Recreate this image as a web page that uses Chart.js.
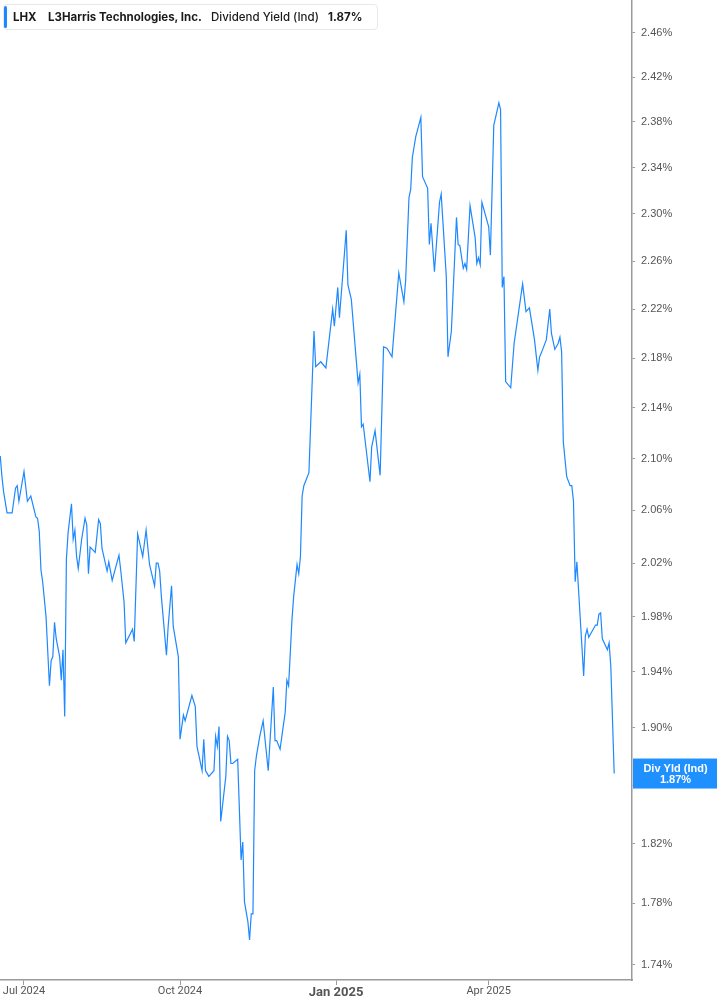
<!DOCTYPE html>
<html>
<head>
<meta charset="utf-8">
<script src="https://cdn.jsdelivr.net/npm/chart.js@4.4.1/dist/chart.umd.min.js"></script>
<style>
  html, body { margin: 0; padding: 0; background: #fff; }
  #wrap { position: relative; width: 717px; height: 1005px; }
  #legend {
    position: absolute; left: 3px; top: 4px; width: 375px; height: 26px;
    box-sizing: border-box; border: 1px solid #e8e8e8; border-radius: 4px;
    background: #fff; font-family: Inter, 'Noto Sans', sans-serif; font-size: 11.5px; color: #1a1a1a;
  }
  #legend .bar { position: absolute; left: 0; top: 1px; width: 3px; height: 22px; background: #1e88ff; border-radius: 2px; }
  #legend span { position: absolute; top: 5px; white-space: nowrap; }
  .b { font-weight: 700; }
  .m { font-weight: 500; }
</style>
</head>
<body>
<div id="wrap">
  <canvas id="chart" width="717" height="1005"></canvas>
  <div id="legend">
    <div class="bar"></div>
    <span class="b" style="left:9px">LHX</span>
    <span class="b" style="left:44px">L3Harris Technologies, Inc.</span>
    <span class="m" style="left:207px">Dividend Yield (Ind)</span>
    <span class="b" style="left:324px">1.87%</span>
  </div>
</div>
<script>
// days counted from 2024-07-01
const dayOffsets = [
  -14,-13,-12,-10,-7,-5,-4,-3,0,2,
  4,7,8,9,10,11,13,15,16,17,
  18,19,21,22,23,24,25,26,28,29,
  30,31,32,34,36,37,38,39,42,44,
  45,46,49,50,52,56,57,59,60,64,
  65,67,70,72,74,77,78,79,80,81,
  84,85,87,88,91,92,94,95,99,101,
  102,105,106,107,109,112,113,114,115,116,
  119,120,121,122,123,126,128,129,130,132,
  133,134,135,136,137,139,141,144,147,148,
  149,151,154,155,156,157,158,159,161,162,
  163,164,165,168,171,172,175,178,182,183,
  185,186,190,191,193,197,198,199,200,204,
  205,207,210,212,214,217,221,224,225,227,
  228,229,231,234,235,238,239,240,242,245,
  246,249,250,252,255,256,257,259,260,261,
  263,266,267,268,269,270,274,275,277,280,
  281,282,283,284,287,289,294,296,298,301,
  303,304,305,308,310,311,313,315,316,317,
  318,320,322,323,324,325,326,330,331,332,
  333,337,338,339,340,341,344,345,346,348
];

// dividend yield, %
const yieldValues = [
  2.102,2.086,2.074,2.058,2.058,2.077,2.079,2.067,2.090,2.067,
  2.071,2.055,2.054,2.044,2.015,2.006,1.980,1.930,1.948,1.951,
  1.976,1.964,1.951,1.934,1.956,1.908,2.023,2.043,2.065,2.038,
  2.045,2.025,2.016,2.038,2.054,2.049,2.012,2.032,2.028,2.053,
  2.050,2.031,2.014,2.021,2.007,2.026,2.015,1.991,1.961,1.971,
  1.962,2.042,2.025,2.045,2.019,2.003,2.020,2.020,2.014,1.995,
  1.952,1.973,2.003,1.973,1.951,1.892,1.909,1.905,1.923,1.915,
  1.887,1.870,1.892,1.870,1.866,1.870,1.894,1.887,1.901,1.835,
  1.866,1.894,1.891,1.875,1.875,1.878,1.809,1.821,1.781,1.768,
  1.756,1.773,1.773,1.870,1.880,1.894,1.905,1.870,1.929,1.891,
  1.891,1.885,1.911,1.934,1.930,1.953,1.978,1.995,2.019,2.012,
  2.025,2.071,2.079,2.089,2.202,2.173,2.177,2.172,2.220,2.206,
  2.238,2.213,2.286,2.240,2.228,2.160,2.167,2.125,2.127,2.082,
  2.109,2.122,2.087,2.189,2.188,2.181,2.250,2.226,2.243,2.314,
  2.321,2.349,2.367,2.384,2.332,2.322,2.274,2.292,2.251,2.310,
  2.317,2.247,2.181,2.202,2.297,2.274,2.273,2.254,2.258,2.253,
  2.307,2.280,2.258,2.263,2.257,2.310,2.289,2.265,2.377,2.397,
  2.391,2.238,2.247,2.161,2.156,2.192,2.241,2.218,2.221,2.195,
  2.170,2.181,2.184,2.195,2.220,2.200,2.187,2.192,2.197,2.185,
  2.113,2.086,2.079,2.079,2.067,2.006,2.021,1.937,1.966,1.971,
  1.965,1.974,1.974,1.982,1.983,1.964,1.956,1.961,1.944,1.868
];

const xTickDays = [0, 92, 184, 274];
const xTickLabels = ['Jul 2024', 'Oct 2024', 'Jan 2025', 'Apr 2025'];
const yTickValues = [1.74, 1.78, 1.82, 1.86, 1.90, 1.94, 1.98, 2.02, 2.06, 2.10,
  2.14, 2.18, 2.22, 2.26, 2.30, 2.34, 2.38, 2.42, 2.46];

const LINE_COLOR = '#1e88ff';
const AXIS_COLOR = '#9a9a9a';
const TEXT_COLOR = '#555';

// blue tag with the latest value on the right axis
const lastValueTag = {
  id: 'lastValueTag',
  afterDraw(chart) {
    const { ctx, chartArea, scales } = chart;
    const v = yieldValues[yieldValues.length - 1];
    const y = scales.y.getPixelForValue(v);
    const cx = (chartArea.right + chart.width) / 2 + 1;
    ctx.save();
    ctx.fillStyle = '#1e90ff';
    ctx.fillRect(chartArea.right + 1, y - 15, chart.width - chartArea.right - 1, 30);
    ctx.fillStyle = '#fff';
    ctx.font = 'bold 11px "Liberation Sans", Arial, sans-serif';
    ctx.textAlign = 'center';
    ctx.textBaseline = 'middle';
    ctx.fillText('Div Yld (Ind)', cx, y - 5);
    ctx.fillText(v.toFixed(2) + '%', cx, y + 6);
    ctx.restore();
  }
};

new Chart(document.getElementById('chart'), {
  type: 'line',
  data: {
    datasets: [{
      data: dayOffsets.map((d, i) => ({ x: d, y: yieldValues[i] })),
      borderColor: LINE_COLOR,
      borderWidth: 1.2,
      pointRadius: 0,
      tension: 0,
      fill: false
    }]
  },
  options: {
    responsive: false,
    animation: false,
    layout: { padding: 0 },
    plugins: { legend: { display: false }, tooltip: { enabled: false } },
    scales: {
      x: {
        type: 'linear',
        min: -14.15,
        max: 358.5,
        afterBuildTicks: s => { s.ticks = xTickDays.map(v => ({ value: v })); },
        afterFit: s => { s.height = 25; s.paddingLeft = 0; s.paddingRight = 0; },
        grid: { display: true, drawOnChartArea: false, drawTicks: true, tickLength: 5, color: AXIS_COLOR },
        border: { display: true, color: AXIS_COLOR, width: 1.5 },
        ticks: {
          autoSkip: false,
          maxRotation: 0,
          padding: 0,
          color: TEXT_COLOR,
          font: c => c.tick && c.tick.value === 184
            ? { family: 'Roboto', size: 13, weight: 'bold' }
            : { family: 'Roboto', size: 11 },
          callback: v => xTickLabels[xTickDays.indexOf(v)] || ''
        }
      },
      y: {
        type: 'logarithmic',
        position: 'right',
        min: 1.73419,
        max: 2.49035,
        afterBuildTicks: s => { s.ticks = yTickValues.map(v => ({ value: v })); },
        afterFit: s => { s.width = 85; s.paddingTop = 0; s.paddingBottom = 0; },
        grid: { display: true, drawOnChartArea: false, drawTicks: true, tickLength: 3, color: AXIS_COLOR },
        border: { display: true, color: AXIS_COLOR, width: 1.5 },
        ticks: {
          autoSkip: false,
          padding: 6,
          color: TEXT_COLOR,
          font: { family: '"Liberation Sans", Arial, sans-serif', size: 11 },
          callback: v => v.toFixed(2) + '%'
        }
      }
    }
  },
  plugins: [lastValueTag]
});
</script>
</body>
</html>
